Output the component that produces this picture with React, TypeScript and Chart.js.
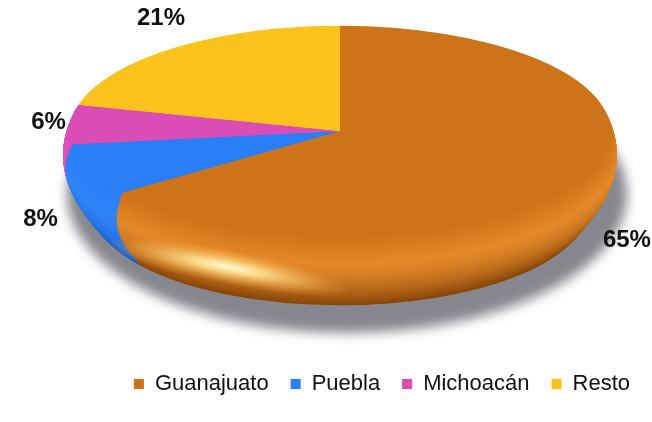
import React, { useEffect, useRef } from "react";
import { Chart, registerables } from "chart.js";

Chart.register(...registerables);

const categories = ["Guanajuato", "Puebla", "Michoacán", "Resto"];
const shares = [65, 8, 6, 21];
const topColors = ["#CD7319", "#2A7FF6", "#DA4DB6", "#FDC21C"];
const sideMid = ["#E3892A", "#2F84F8", "#E055BE", "#FFCB30"];
const sideDark = ["#874609", "#1A5BC2", "#A2307F", "#C08E0A"];

const CX = 340;
const CY = 131;
const RX = 277;
const RY = 108;
const DEPTH = 78;
const BEVEL = 30;
const PHI0 = (40 * Math.PI) / 180;

function hexToRgb(h: string) {
  const n = parseInt(h.slice(1), 16);
  return [(n >> 16) & 255, (n >> 8) & 255, n & 255];
}
function mix(a: string, b: string, t: number) {
  const x = hexToRgb(a);
  const y = hexToRgb(b);
  const tt = Math.max(0, Math.min(1, t));
  const r = x.map((v, i) => Math.round(v + (y[i] - v) * tt));
  return `rgb(${r[0]},${r[1]},${r[2]})`;
}
function profile(t: number) {
  const phi = -PHI0 + t * (PHI0 + Math.PI / 2);
  return { phi, r: RX - BEVEL + BEVEL * Math.cos(phi) };
}

const pie3d = {
  id: "pie3d",
  beforeDatasetsDraw(chart: any) {
    const ctx = chart.ctx;
    const arcs = chart.getDatasetMeta(0).data;
    if (!arcs.length) return;
    const ox = arcs[0].x;
    const oy = arcs[0].y;
    const R = arcs[0].outerRadius;

    // drop shadow
    ctx.save();
    ctx.filter = "blur(6px)";
    ctx.fillStyle = "rgba(100,100,110,0.78)";
    ctx.beginPath();
    ctx.ellipse(CX + 7, CY + DEPTH * 0.6 + 16, RX + 3, RY + DEPTH * 0.4, 0, 0, Math.PI * 2);
    ctx.fill();
    ctx.restore();

    // rounded rim, layer by layer from the bottom up
    for (let i = DEPTH; i >= 1; i--) {
      const t = i / DEPTH;
      const { phi, r } = profile(t);
      const k = r / RX;
      ctx.save();
      ctx.translate(CX, CY + i);
      ctx.scale((RX * k) / R, (RY * k) / R);
      ctx.translate(-ox, -oy);
      arcs.forEach((arc: any, j: number) => {
        ctx.beginPath();
        ctx.moveTo(ox, oy);
        ctx.arc(ox, oy, R, arc.startAngle, arc.endAngle);
        ctx.closePath();
        let col;
        if (phi < 0) col = mix(topColors[j], sideMid[j], (phi + PHI0) / PHI0);
        else col = mix(sideMid[j], sideDark[j], Math.pow(phi / (Math.PI / 2), 1.4));
        ctx.fillStyle = col;
        ctx.fill();
      });
      ctx.restore();
    }

    // glossy highlight on the front-left bevel
    ctx.save();
    ctx.translate(228, 267);
    ctx.rotate((11 * Math.PI) / 180);
    ctx.scale(1, 0.14);
    const g = ctx.createRadialGradient(0, 0, 0, 0, 0, 125);
    g.addColorStop(0, "rgba(255,252,215,1)");
    g.addColorStop(0.3, "rgba(255,230,150,0.85)");
    g.addColorStop(1, "rgba(255,170,70,0)");
    ctx.fillStyle = g;
    ctx.beginPath();
    ctx.arc(0, 0, 125, 0, Math.PI * 2);
    ctx.fill();
    ctx.restore();

    // transform for the top face drawn by Chart.js
    const k0 = profile(0).r / RX;
    ctx.save();
    ctx.translate(CX, CY);
    ctx.scale((RX * k0) / R, (RY * k0) / R);
    ctx.translate(-ox, -oy);
  },
  afterDatasetsDraw(chart: any) {
    const ctx = chart.ctx;
    ctx.restore();
    const arcs = chart.getDatasetMeta(0).data;
    const total = shares.reduce((a, b) => a + b, 0);
    ctx.save();
    ctx.font = "bold 24px Arial, 'Liberation Sans', sans-serif";
    ctx.fillStyle = "#111";
    ctx.textAlign = "center";
    ctx.textBaseline = "middle";
    arcs.forEach((arc: any, j: number) => {
      const mid = (arc.startAngle + arc.endAngle) / 2;
      const c = Math.cos(mid);
      const s = Math.sin(mid);
      const x = CX + c * (s > 0 ? 322 : 292);
      const y = CY + s * (s > 0 ? 240 : 142);
      ctx.fillText(Math.round((shares[j] / total) * 100) + "%", x, y);
    });
    ctx.restore();
  },
};

export default function App() {
  const ref = useRef<HTMLCanvasElement>(null);
  useEffect(() => {
    document.body.style.margin = "0";
    const chart = new Chart(ref.current!, {
      type: "pie",
      data: {
        labels: categories,
        datasets: [
          {
            data: shares,
            backgroundColor: topColors,
            borderWidth: 0,
          },
        ],
      },
      options: {
        responsive: false,
        animation: false,
        devicePixelRatio: 1,
        layout: { padding: { bottom: 17, right: 0 } },
        plugins: {
          legend: {
            position: "bottom",
            align: "end",
            labels: {
              font: { size: 22, family: "Arial, 'Liberation Sans', sans-serif" },
              color: "#111",
              boxWidth: 10,
              boxHeight: 10,
              padding: 22,
            },
          },
          tooltip: { enabled: false },
        },
      },
      plugins: [pie3d],
    });
    return () => chart.destroy();
  }, []);
  return (
    <div style={{ width: 652, height: 422, background: "#fff" }}>
      <canvas ref={ref} width={652} height={422} />
    </div>
  );
}
